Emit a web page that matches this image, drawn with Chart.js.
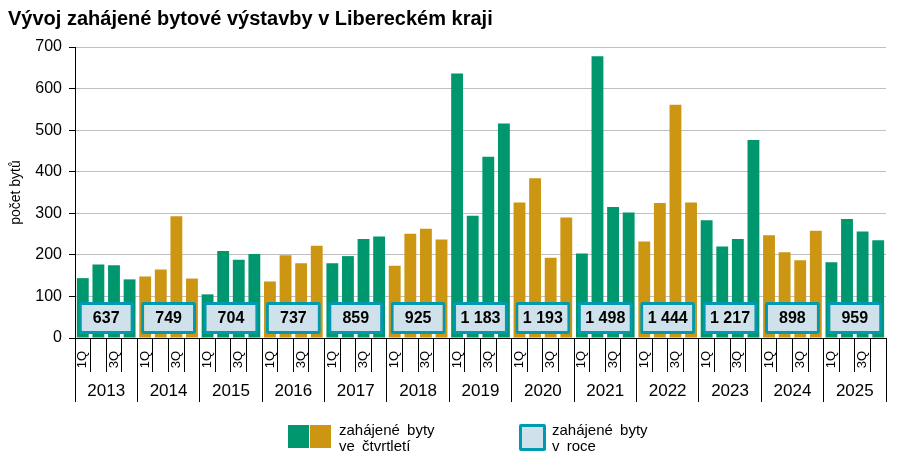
<!DOCTYPE html>
<html><head><meta charset="utf-8">
<script src="https://cdn.jsdelivr.net/npm/chart.js@4/dist/chart.umd.min.js"></script>
<style>
html,body{margin:0;padding:0;background:#fff;}
#wrap{position:relative;width:899px;height:472px;font-family:'Liberation Sans',Arial,sans-serif;}
#c{position:absolute;left:0;top:0;}
.sw{position:absolute;box-sizing:border-box;}
.lt{position:absolute;font-size:15px;line-height:16px;color:#000;white-space:nowrap;word-spacing:3px;}
</style></head><body>
<div id="wrap">
<canvas id="c" width="899" height="472"></canvas>
<div class="sw" style="left:288px;top:425px;width:21px;height:23px;background:#00966E"></div>
<div class="sw" style="left:310px;top:425px;width:21px;height:23px;background:#CC9612"></div>
<div class="lt" style="left:339px;top:422px">zahájené byty<br>ve čtvrtletí</div>
<div class="sw" style="left:519px;top:424px;width:27px;height:27px;background:#CFE1EA;border:3px solid #0099B2;border-radius:2px"></div>
<div class="lt" style="left:552px;top:422px">zahájené byty<br>v roce</div>
</div>
<script>
const years = ['2013','2014','2015','2016','2017','2018','2019','2020','2021','2022','2023','2024','2025'];
const quarterLabels = years.flatMap(() => ['1Q', '', '3Q', '']);
const quarterly = [
  144, 177, 175, 141,
  148, 165, 293, 143,
  105, 209, 188, 202,
  136, 199, 180, 222,
  180, 197, 238, 244,
  174, 251, 263, 237,
  636, 294, 436, 516,
  326, 384, 193, 290,
  203, 678, 315, 302,
  232, 325, 561, 326,
  283, 220, 238, 476,
  247, 206, 187, 258,
  182, 286, 256, 235
];
const annual = [637, 749, 704, 737, 859, 925, 1183, 1193, 1498, 1444, 1217, 898, 959];

const FONT = "'Liberation Sans', Arial, sans-serif";
const GREEN = '#00966E', GOLD = '#CC9612';
const BOX_FILL = '#CFE1EA', BOX_BORDER = '#0099B2';
const BOX_LOW = 9.6, BOX_HIGH = 86.6; // vertical placement of the annual boxes (axis units)

function fmt(n) { return String(n).replace(/\B(?=(\d{3})+(?!\d))/g, ' '); }

const boxLabels = {
  id: 'boxLabels',
  afterDatasetsDraw(chart) {
    const meta = chart.getDatasetMeta(0);
    const ctx = chart.ctx;
    ctx.save();
    ctx.font = "bold 16px " + FONT;
    ctx.fillStyle = '#000';
    ctx.textAlign = 'center';
    ctx.textBaseline = 'middle';
    meta.data.forEach((el, i) => {
      ctx.fillText(fmt(annual[i]), el.x, (el.y + el.base) / 2 + 1);
    });
    ctx.restore();
  }
};

new Chart(document.getElementById('c'), {
  type: 'bar',
  data: {
    labels: quarterLabels,
    datasets: [
      {
        label: 'zahájené byty v roce',
        data: annual.map(() => [BOX_LOW, BOX_HIGH]),
        xAxisID: 'x2', yAxisID: 'y',
        backgroundColor: BOX_FILL, borderColor: BOX_BORDER, borderWidth: 3,
        borderSkipped: false, borderRadius: 2, grouped: false,
        categoryPercentage: 1, barPercentage: 0.88, order: 0
      },
      {
        label: 'zahájené byty ve čtvrtletí',
        data: quarterly,
        xAxisID: 'x', yAxisID: 'y',
        backgroundColor: (c) => (Math.floor(c.dataIndex / 4) % 2 === 0 ? GREEN : GOLD),
        borderWidth: 0, grouped: false,
        categoryPercentage: 1, barPercentage: 0.76, order: 1
      }
    ]
  },
  options: {
    responsive: false, animation: false,
    layout: { padding: { left: 8, right: 13, top: 0, bottom: 70 } },
    plugins: {
      legend: { display: false },
      tooltip: { enabled: false },
      title: {
        display: true, text: 'Vývoj zahájené bytové výstavby v Libereckém kraji',
        align: 'start', color: '#000',
        font: { family: FONT, size: 20, weight: 'bold' },
        padding: { top: 7, bottom: 16 }
      }
    },
    scales: {
      y: {
        min: 0, max: 700,
        ticks: { stepSize: 100, color: '#000', font: { family: FONT, size: 16 }, padding: 7 },
        grid: {
          color: (c) => (c.tick && c.tick.value === 0 ? 'rgba(0,0,0,0)' : '#BFBFBF'),
          tickColor: '#000', tickLength: 6, lineWidth: 1
        },
        border: { color: '#000', width: 1 },
        title: { display: true, text: 'počet bytů', color: '#000', font: { family: FONT, size: 14 }, padding: 0 },
        afterFit(s) { s.width = 67; }
      },
      x: {
        type: 'category', position: 'bottom', weight: 0, offset: true,
        grid: { offset: true, drawOnChartArea: false, color: '#000', tickLength: 34 },
        border: { color: '#000', width: 1 },
        ticks: { autoSkip: false, minRotation: 90, maxRotation: 90, color: '#000', font: { family: FONT, size: 13 }, padding: -21 },
        afterFit(s) { s.height = 34; }
      },
      x2: {
        type: 'category', labels: years, position: 'bottom', weight: 1, offset: true,
        grid: { offset: true, drawOnChartArea: false, color: '#000', tickLength: 30 },
        border: { display: false },
        ticks: { autoSkip: false, maxRotation: 0, color: '#000', font: { family: FONT, size: 17 }, padding: -21 },
        afterFit(s) { s.height = 30; }
      }
    }
  },
  plugins: [boxLabels]
});
</script>
</body></html>
